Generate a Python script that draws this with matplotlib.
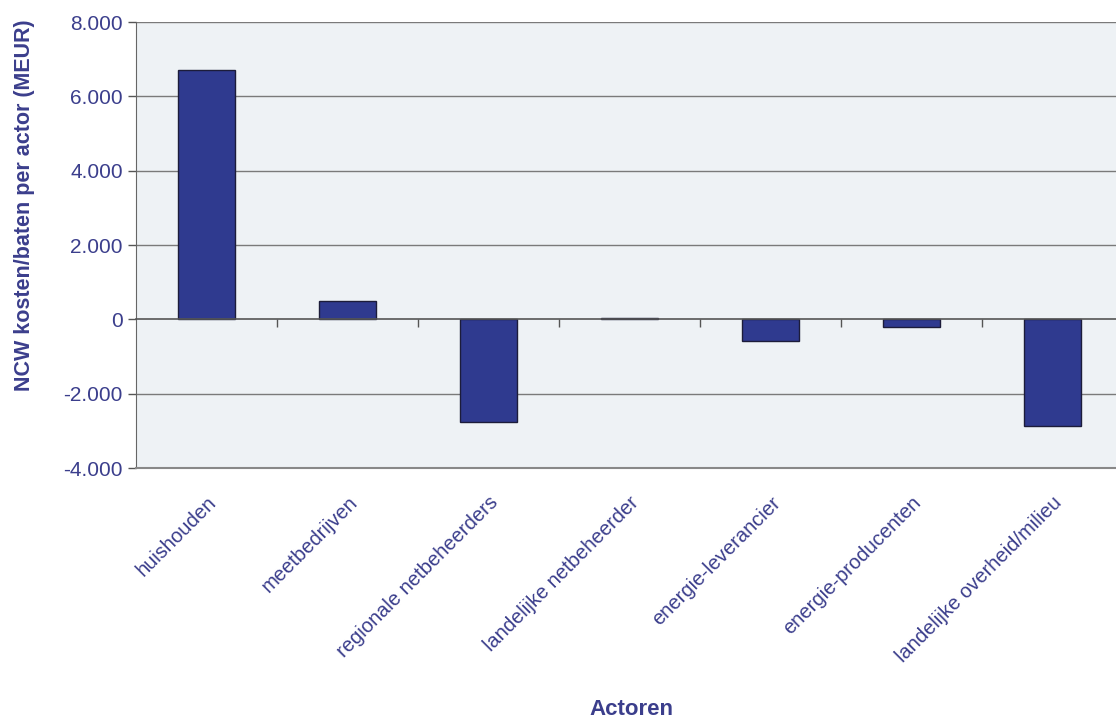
import matplotlib
matplotlib.use("Agg")
import matplotlib.pyplot as plt
import numpy as np
from matplotlib.ticker import FuncFormatter, FixedLocator

categories = ["huishouden", "meetbedrijven", "regionale netbeheerders",
              "landelijke netbeheerder", "energie-leverancier",
              "energie-producenten", "landelijke overheid/milieu"]
values = [6700, 500, -2750, 30, -590, -200, -2870]
yticks = [-4000, -2000, 0, 2000, 4000, 6000, 8000]

text_color = "#3b3e8c"
bar_color = "#2f3a8f"

plt.rcParams['font.family'] = ['Liberation Sans', 'DejaVu Sans']

fig = plt.figure(figsize=(11.16, 7.26), dpi=100)
ax = fig.add_axes([136/1116, 1 - 468/726, (1123-136)/1116, (468-22)/726])
ax.set_facecolor("#eef2f5")

# spines first (set_position resets ticks)
ax.spines['top'].set_position(('data', 0))
ax.spines['top'].set_color("#555555")
ax.spines['top'].set_linewidth(1.2)
ax.spines['top'].set_zorder(4)
ax.spines['right'].set_visible(False)
ax.spines['left'].set_color("#666666")
ax.spines['bottom'].set_color("#888888")
ax.spines['bottom'].set_linewidth(1.5)

x = np.arange(len(categories))
ax.bar(x, values, width=0.41, color=bar_color, edgecolor="#1c1c3a", linewidth=1.0, zorder=3)

ax.set_xlim(-0.5, len(categories) - 0.5)
ax.set_ylim(-4000, 8000)
ax.set_yticks(yticks)
ax.yaxis.set_major_formatter(FuncFormatter(lambda v, p: f"{int(v):,}".replace(",", ".")))
for yv in yticks:
    if yv not in (-4000, 0):
        ax.axhline(yv, color="#7a7a7a", linewidth=1.0, zorder=1)

ax.set_xticks(x)
ax.set_xticklabels(categories)
ax.xaxis.set_minor_locator(FixedLocator(np.arange(0.5, len(categories) - 0.5, 1.0)))
ax.tick_params(axis='x', which='major', length=0, pad=18, top=False, bottom=True,
               labelbottom=True, labeltop=False, labelsize=14.5, labelcolor=text_color)
ax.tick_params(axis='x', which='minor', top=True, bottom=False, direction='in',
               length=6, width=1, colors="#555555")
for lbl in ax.get_xticklabels():
    lbl.set_rotation(45)
    lbl.set_ha('right')
    lbl.set_rotation_mode('anchor')
    lbl.set_color(text_color)
ax.tick_params(axis='y', colors="#555555", labelcolor=text_color, labelsize=15, length=6, width=1)

fig.text(25/1116, 1 - 205/726, "NCW kosten/baten per actor (MEUR)", color=text_color,
         fontsize=15.5, fontweight='bold', rotation=90, ha='center', va='center')
fig.text(631/1116, 6/726, "Actoren", color=text_color, fontsize=16,
         fontweight='bold', ha='center', va='bottom')

fig.savefig("out.png", dpi=100)
